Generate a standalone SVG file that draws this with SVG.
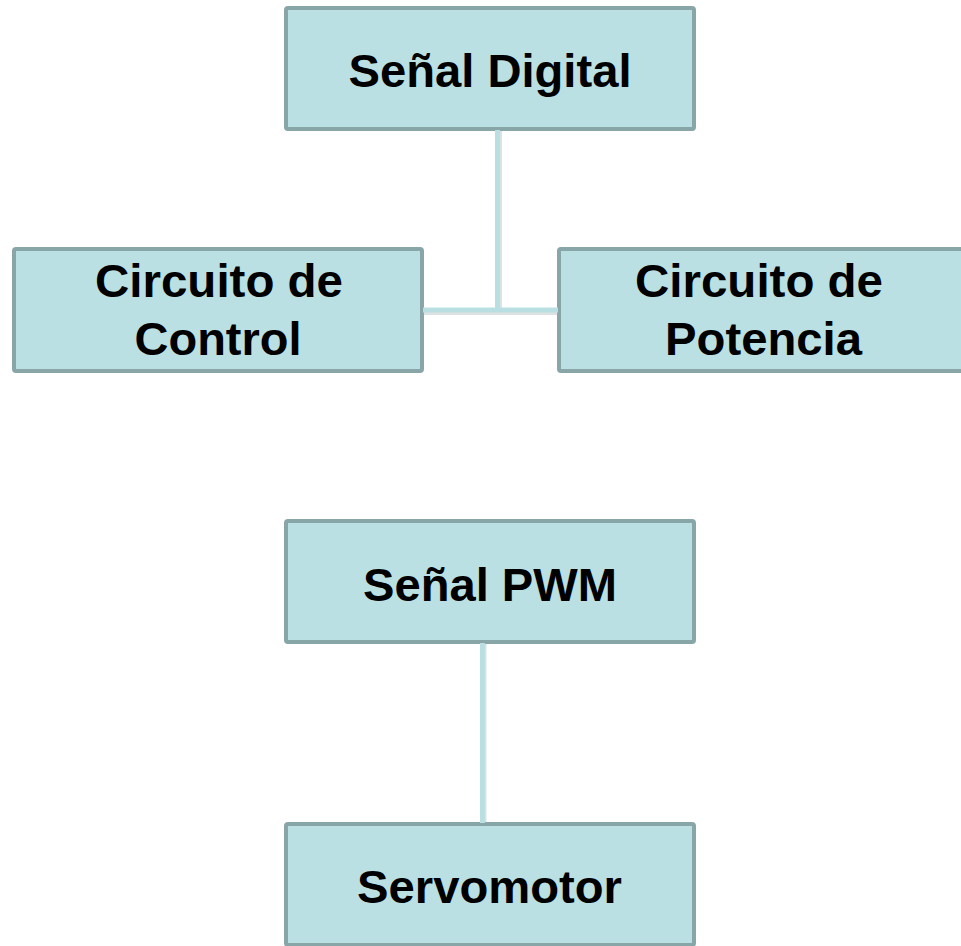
<svg xmlns="http://www.w3.org/2000/svg" width="961" height="946" viewBox="0 0 961 946">
  <style>
    .box { fill: #bae0e3; stroke: #88a5a7; stroke-width: 4; }
    .label { font-family: "Liberation Sans", Arial, sans-serif; font-weight: bold; font-size: 46px; fill: #000; text-anchor: middle; }
    .wire { stroke: #badfe3; stroke-width: 5; fill: none; }
    .wire-shade { stroke: #9aa9ab; stroke-width: 5; fill: none; opacity: 0.35; }
  </style>
  <rect width="961" height="946" fill="#ffffff"/>

  <g id="senal-digital">
    <rect class="box" x="286" y="8" width="408" height="121" rx="2"/>
    <text class="label" x="490" y="87" textLength="283" lengthAdjust="spacingAndGlyphs">Señal Digital</text>
  </g>

  <g id="circuito-control">
    <rect class="box" x="14" y="249" width="408" height="122" rx="2"/>
    <text class="label" x="219" y="297" textLength="248" lengthAdjust="spacingAndGlyphs">Circuito de</text>
    <text class="label" x="218" y="355" textLength="167" lengthAdjust="spacingAndGlyphs">Control</text>
  </g>

  <g id="circuito-potencia">
    <rect class="box" x="559" y="249" width="408" height="122" rx="2"/>
    <text class="label" x="759" y="297" textLength="248" lengthAdjust="spacingAndGlyphs">Circuito de</text>
    <text class="label" x="763.5" y="355" textLength="197" lengthAdjust="spacingAndGlyphs">Potencia</text>
  </g>

  <g id="senal-pwm">
    <rect class="box" x="286" y="521" width="408" height="121" rx="2"/>
    <text class="label" x="490" y="601" textLength="254" lengthAdjust="spacingAndGlyphs">Señal PWM</text>
  </g>

  <g id="servomotor">
    <rect class="box" x="286" y="824" width="408" height="121" rx="2"/>
    <text class="label" x="489.5" y="903" textLength="265" lengthAdjust="spacingAndGlyphs">Servomotor</text>
  </g>

  <g id="connectors">
    <!-- soft shading under each wire -->
    <path class="wire-shade" d="M499.5 131 V312 M423 312.5 H558"/>
    <path class="wire-shade" d="M484 644 V823"/>
    <!-- digital signal branching to control and power circuits -->
    <path class="wire" d="M497.5 130 V310 M423 310 H558"/>
    <!-- PWM signal to servomotor -->
    <path class="wire" d="M482.5 643 V823"/>
  </g>
</svg>
